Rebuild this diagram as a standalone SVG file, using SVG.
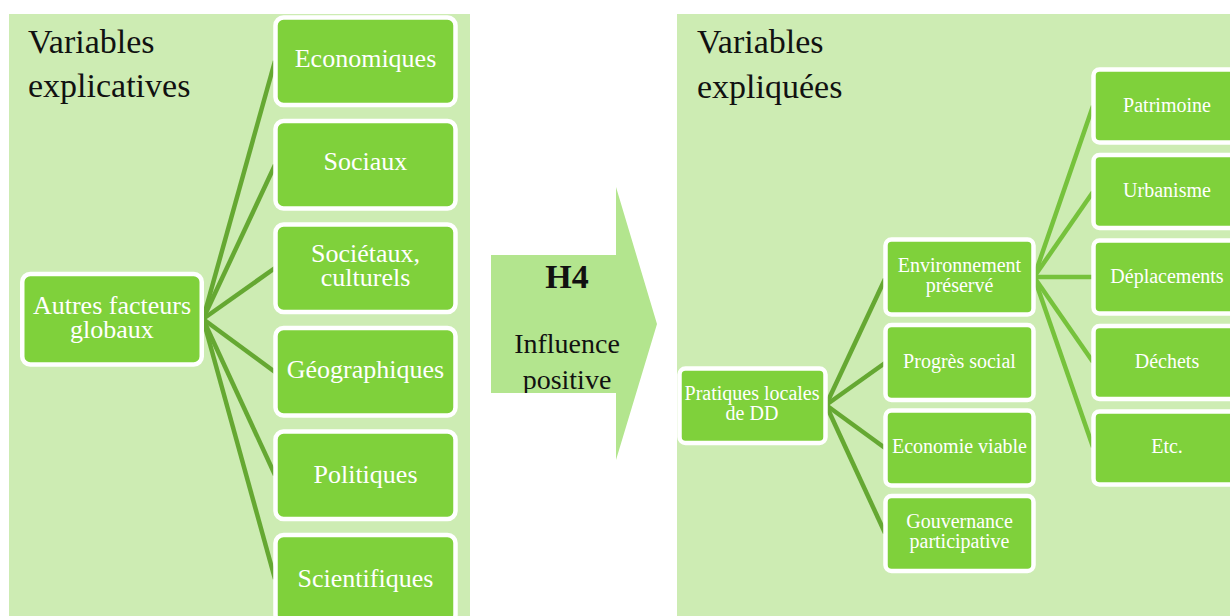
<svg xmlns="http://www.w3.org/2000/svg" width="1230" height="616" viewBox="0 0 1230 616">
  <style>
    .panel { fill: #cdecb3; }
    .title { font-family: "Liberation Serif", "DejaVu Serif", serif; font-size: 34px; fill: #111; }
    .box { fill: #7fd13b; stroke: #ffffff; stroke-width: 4.5; }
    .lbl { font-family: "Liberation Serif", "DejaVu Serif", serif; fill: #ffffff; text-anchor: middle; }
    .big { font-size: 26px; }
    .small { font-size: 20px; }
    .link { stroke: #65a832; stroke-width: 4.5; fill: none; stroke-linecap: butt; }
    .link2 { stroke: #76c23c; stroke-width: 4.5; fill: none; }
    .arrowtxt { font-family: "Liberation Serif", "DejaVu Serif", serif; fill: #111; text-anchor: middle; }
  </style>
  <defs>
    <!-- text inside the arrow is cut at the bottom edge of the arrow body -->
    <clipPath id="arrowBody">
      <rect x="470" y="200" width="200" height="193"/>
    </clipPath>
  </defs>

  <rect width="1230" height="616" fill="#ffffff"/>

  <!-- panels -->
  <g id="panel-left">
    <rect class="panel" x="9" y="14" width="461" height="602"/>
    <text class="title" x="28" y="53">Variables</text>
    <text class="title" x="28" y="97">explicatives</text>
  </g>
  <g id="panel-right">
    <rect class="panel" x="677" y="14" width="553" height="602"/>
    <text class="title" x="697" y="53">Variables</text>
    <text class="title" x="697" y="98">expliquées</text>
  </g>

  <!-- connectors -->
  <g id="connectors">
    <line class="link" x1="203" y1="319" x2="275" y2="61"/>
    <line class="link" x1="203" y1="319" x2="275" y2="165"/>
    <line class="link" x1="203" y1="319" x2="275" y2="268"/>
    <line class="link" x1="203" y1="319" x2="275" y2="372"/>
    <line class="link" x1="203" y1="319" x2="275" y2="475"/>
    <line class="link" x1="203" y1="319" x2="275" y2="579"/>

    <line class="link" x1="826" y1="405" x2="885" y2="279"/>
    <line class="link" x1="826" y1="405" x2="885" y2="363"/>
    <line class="link" x1="826" y1="405" x2="885" y2="448"/>
    <line class="link" x1="826" y1="405" x2="885" y2="533"/>

    <line class="link2" x1="1034" y1="277" x2="1093" y2="106"/>
    <line class="link2" x1="1034" y1="277" x2="1093" y2="192"/>
    <line class="link2" x1="1034" y1="277" x2="1093" y2="277"/>
    <line class="link2" x1="1034" y1="277" x2="1093" y2="362"/>
    <line class="link2" x1="1034" y1="277" x2="1093" y2="447"/>
  </g>

  <!-- big arrow H4 -->
  <g id="arrow-h4">
    <path d="M491 255 H616 V187 L657 324 L616 460 V393 H491 Z" fill="#b3e58e"/>
    <text class="arrowtxt" x="567" y="288" font-size="34" font-weight="bold">H4</text>
    <g clip-path="url(#arrowBody)">
      <text class="arrowtxt" x="567" y="353" font-size="28">Influence</text>
      <text class="arrowtxt" x="567" y="389" font-size="28">positive</text>
    </g>
  </g>

  <!-- left hierarchy -->
  <g id="node-autres">
    <rect class="box" x="22.25" y="274" width="179.5" height="90.5" rx="8"/>
    <text class="lbl big" x="112" y="314">Autres facteurs</text>
    <text class="lbl big" x="112" y="338">globaux</text>
  </g>
  <g id="node-economiques">
    <rect class="box" x="275.5" y="17.5" width="180" height="87.5" rx="8"/>
    <text class="lbl big" x="365.5" y="67">Economiques</text>
  </g>
  <g id="node-sociaux">
    <rect class="box" x="275.5" y="121" width="180" height="87.5" rx="8"/>
    <text class="lbl big" x="365.5" y="170">Sociaux</text>
  </g>
  <g id="node-societaux">
    <rect class="box" x="275.5" y="224.5" width="180" height="87.5" rx="8"/>
    <text class="lbl big" x="365.5" y="262">Sociétaux,</text>
    <text class="lbl big" x="365.5" y="286">culturels</text>
  </g>
  <g id="node-geographiques">
    <rect class="box" x="275.5" y="328" width="180" height="87.5" rx="8"/>
    <text class="lbl big" x="365.5" y="378">Géographiques</text>
  </g>
  <g id="node-politiques">
    <rect class="box" x="275.5" y="431.5" width="180" height="87.5" rx="8"/>
    <text class="lbl big" x="365.5" y="483">Politiques</text>
  </g>
  <g id="node-scientifiques">
    <rect class="box" x="275.5" y="535" width="180" height="87.5" rx="8"/>
    <text class="lbl big" x="365.5" y="587">Scientifiques</text>
  </g>

  <!-- right hierarchy -->
  <g id="node-pratiques">
    <rect class="box" x="679.5" y="368.5" width="146" height="74.5" rx="6"/>
    <text class="lbl small" x="752" y="400">Pratiques locales</text>
    <text class="lbl small" x="752" y="420">de DD</text>
  </g>
  <g id="node-environnement">
    <rect class="box" x="885.5" y="239.5" width="148" height="75" rx="6"/>
    <text class="lbl small" x="959.5" y="272">Environnement</text>
    <text class="lbl small" x="959.5" y="292">préservé</text>
  </g>
  <g id="node-progres">
    <rect class="box" x="885.5" y="325" width="148" height="75" rx="6"/>
    <text class="lbl small" x="959.5" y="368">Progrès social</text>
  </g>
  <g id="node-economie">
    <rect class="box" x="885.5" y="410.5" width="148" height="75" rx="6"/>
    <text class="lbl small" x="959.5" y="453">Economie viable</text>
  </g>
  <g id="node-gouvernance">
    <rect class="box" x="885.5" y="496" width="148" height="75" rx="6"/>
    <text class="lbl small" x="959.5" y="528">Gouvernance</text>
    <text class="lbl small" x="959.5" y="548">participative</text>
  </g>
  <g id="node-patrimoine">
    <rect class="box" x="1093.5" y="69.5" width="147" height="73" rx="6"/>
    <text class="lbl small" x="1167" y="112">Patrimoine</text>
  </g>
  <g id="node-urbanisme">
    <rect class="box" x="1093.5" y="155" width="147" height="73" rx="6"/>
    <text class="lbl small" x="1167" y="197">Urbanisme</text>
  </g>
  <g id="node-deplacements">
    <rect class="box" x="1093.5" y="240.5" width="147" height="73" rx="6"/>
    <text class="lbl small" x="1167" y="283">Déplacements</text>
  </g>
  <g id="node-dechets">
    <rect class="box" x="1093.5" y="326" width="147" height="73" rx="6"/>
    <text class="lbl small" x="1167" y="368">Déchets</text>
  </g>
  <g id="node-etc">
    <rect class="box" x="1093.5" y="411.5" width="147" height="73" rx="6"/>
    <text class="lbl small" x="1167" y="453">Etc.</text>
  </g>
</svg>
